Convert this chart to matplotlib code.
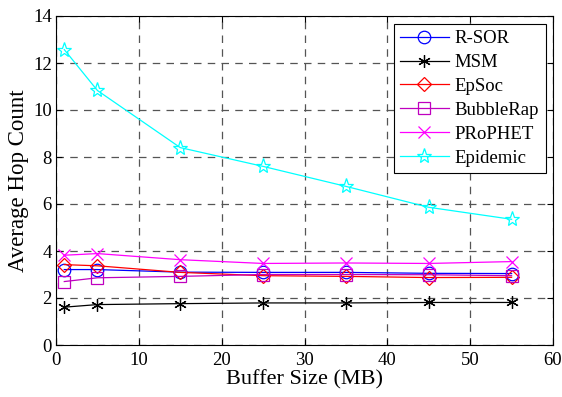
import matplotlib
matplotlib.use("Agg")
import matplotlib.pyplot as plt

buffer_mb = [1, 5, 15, 25, 35, 45, 55]
r_sor = [3.21, 3.21, 3.10, 3.09, 3.09, 3.05, 3.04]
msm = [1.61, 1.72, 1.76, 1.79, 1.79, 1.81, 1.81]
epsoc = [3.42, 3.37, 3.09, 2.95, 2.92, 2.87, 2.88]
bubblerap = [2.70, 2.86, 2.92, 3.00, 3.00, 2.99, 2.95]
prophet = [3.82, 3.89, 3.63, 3.47, 3.49, 3.47, 3.55]
epidemic = [12.57, 10.83, 8.40, 7.60, 6.75, 5.86, 5.35]

plt.rcParams['font.family'] = ['Liberation Serif', 'DejaVu Serif']

fig = plt.figure(figsize=(5.62, 3.97), dpi=100)
L, R, T, B = 56, 553, 16, 345
ax = fig.add_axes([L/562, 1 - B/397, (R - L)/562, (B - T)/397])

series = [
    ("R-SOR", r_sor, "#0000ff", "o", 9),
    ("MSM", msm, "#000000", (6, 2, 0), 9),
    ("EpSoc", epsoc, "#ff0000", "D", 7),
    ("BubbleRap", bubblerap, "#bf00bf", "s", 8),
    ("PRoPHET", prophet, "#ff00ff", "x", 8),
    ("Epidemic", epidemic, "#00ffff", "*", 11),
]
for name, vals, col, mk, ms in series:
    ax.plot(buffer_mb, vals, color=col, lw=0.9, marker=mk, ms=ms,
            mfc='none', mec=col, mew=0.9, label=name)

ax.set_xlim(0, 60)
ax.set_ylim(0, 14)
ax.set_xticks(range(0, 61, 10))
ax.set_yticks(range(0, 15, 2))
ax.grid(True, linestyle=(0, (6, 5)), color='#555555', lw=0.9)
ax.tick_params(direction='in', top=True, right=True, labelsize=13.5, length=4)
ax.tick_params(axis='x', pad=5)
ax.tick_params(axis='y', pad=3)
for s in ax.spines.values():
    s.set_linewidth(0.8)
ax.set_xlabel("Buffer Size (MB)", fontsize=16, labelpad=1)
ax.set_ylabel("Average Hop Count", fontsize=16.5, labelpad=3)

leg = ax.legend(loc='upper right', fontsize=13.5, fancybox=False, framealpha=1,
                edgecolor='black', handlelength=2.6, borderpad=0.35,
                labelspacing=0.36, handletextpad=0.3, borderaxespad=0.4)
leg.get_frame().set_linewidth(0.8)

fig.savefig("out.png", dpi=100)
